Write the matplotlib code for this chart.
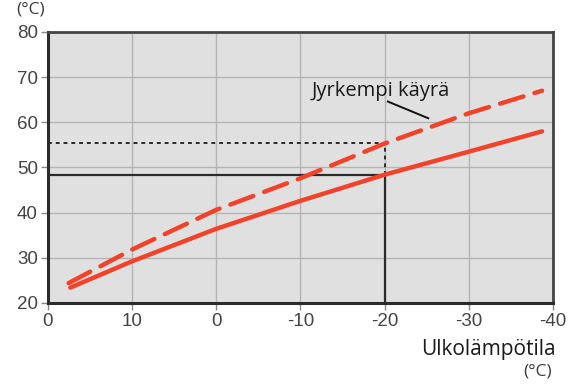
import matplotlib
matplotlib.use("Agg")
import matplotlib.pyplot as plt

# outdoor temperature (axis runs from warm on the left to cold on the right)
outdoor = [17.3, 10, 0, -10, -20, -30, -38.7]
supply_normal = [23.4, 29.2, 36.4, 42.6, 48.4, 53.5, 58.0]
outdoor_steep = [17.5, 10, 0, -10, -20, -30, -38.7]
supply_steep = [24.4, 31.8, 40.6, 47.6, 55.3, 62.0, 67.0]

x_ticks = [20, 10, 0, -10, -20, -30, -40]
x_tick_labels = ["0", "10", "0", "-10", "-20", "-30", "-40"]
y_ticks = [20, 30, 40, 50, 60, 70, 80]

design_outdoor = -20
design_normal = 48.4
design_steep = 55.5

label_text = "Jyrkempi käyrä"
label_pos = (-11.4, 65.8)
leader_x = [-20.4, -25.2]
leader_y = [64.6, 60.9]

RED = "#f2432a"
DARK = "#2b2b2b"

plt.rcParams["font.family"] = ["Open Sans", "DejaVu Sans"]

fig = plt.figure(figsize=(5.74, 3.85), dpi=100)
ax = fig.add_axes([0.0828, 0.213, 0.8806, 0.7039])
ax.set_facecolor("#e0e0e0")

ax.set_xlim(20, -40)
ax.set_ylim(20, 80)
ax.set_xticks(x_ticks)
ax.set_xticklabels(x_tick_labels)
ax.set_yticks(y_ticks)
ax.grid(True, color="#b4b4b4", linewidth=1.0)
ax.set_axisbelow(True)
ax.tick_params(axis="both", labelsize=13.5, colors="#444444", length=5,
               width=1, color="#888888", pad=2)
for lab in ax.get_xticklabels() + ax.get_yticklabels():
    lab.set_family(["Liberation Sans", "DejaVu Sans"])
for side in ("left", "bottom"):
    ax.spines[side].set_linewidth(2.2)
    ax.spines[side].set_color(DARK)
for side in ("top", "right"):
    ax.spines[side].set_linewidth(2.0)
    ax.spines[side].set_color("#444444")

# reading guides at the design outdoor temperature
ax.plot([20, design_outdoor], [design_normal, design_normal], color=DARK, lw=1.6)
ax.plot([design_outdoor, design_outdoor], [20, design_normal], color=DARK, lw=1.6)
ax.plot([20, design_outdoor], [design_steep, design_steep], color=DARK, lw=1.4,
        linestyle=(0, (2, 2)))
ax.plot([design_outdoor, design_outdoor], [design_normal, design_steep], color=DARK,
        lw=1.4, linestyle=(0, (2, 2)))

ax.plot(outdoor, supply_normal, color=RED, lw=3.2, solid_capstyle="round")
ax.plot(outdoor_steep, supply_steep, color=RED, lw=3.2, dashes=(5.5, 2.6),
        dash_capstyle="round")

ax.text(*label_pos, label_text, fontsize=14.5, color="#1a1a1a",
        ha="left", va="baseline")
ax.plot(leader_x, leader_y, color="#111111", lw=1.4)

fig.text(0.029, 0.964, "(°C)", fontsize=12.5, color="#3a3a3a", ha="left")
fig.text(0.968, 0.078, "Ulkolämpötila", fontsize=15, color="#1a1a1a", ha="right")
fig.text(0.961, 0.024, "(°C)", fontsize=12.5, color="#3a3a3a", ha="right")

fig.savefig("out.png", dpi=100)
